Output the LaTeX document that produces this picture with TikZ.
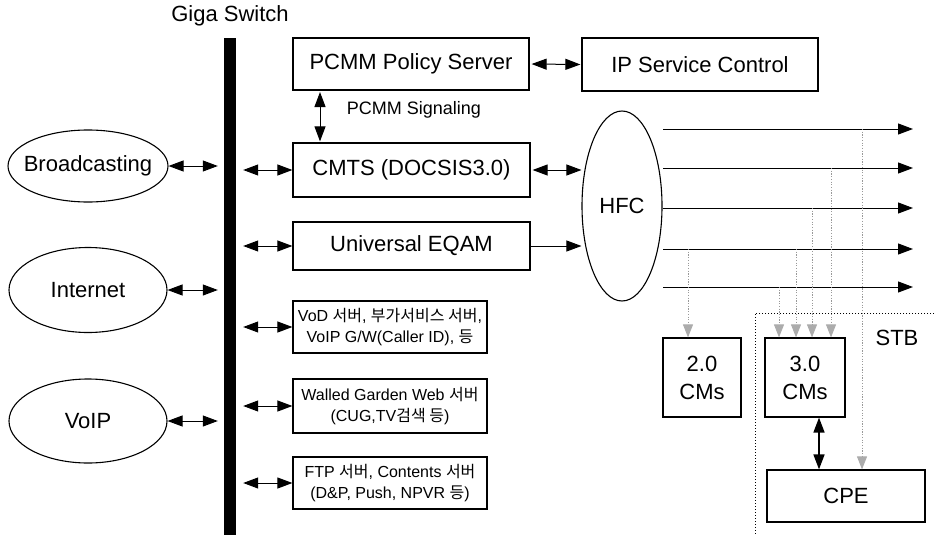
\documentclass[tikz,border=0pt]{standalone}
\usepackage{fontspec}
\setmainfont{Liberation Sans}
\newfontfamily\kr{Noto Sans CJK KR}
\usetikzlibrary{arrows.meta,shapes.geometric}
\tikzset{
  bigtxt/.style={font=\fontsize{22}{28}\selectfont},
  smalltxt/.style={font=\fontsize{16}{21}\selectfont},
  box/.style={draw, line width=1.2pt, rectangle, inner sep=0pt, align=center, bigtxt},
  sbox/.style={draw, line width=1.2pt, rectangle, inner sep=0pt, align=center, smalltxt},
  oval/.style={draw, line width=1.1pt, ellipse, inner sep=0pt},
  tipk/.tip={Triangle[length=15pt,width=11pt]},
  dbl/.style={line width=1pt, tipk-tipk},
  sgl/.style={line width=1pt, -tipk},
  drop/.style={draw=gray!80, line width=0.9pt, dash pattern=on 1.2pt off 1.5pt,
    -{Triangle[length=13pt,width=10pt,fill=gray!65,color=gray!65]}},
  stb/.style={line width=0.9pt, dash pattern=on 1.2pt off 1.8pt}
}
\begin{document}
\begin{tikzpicture}[x=1pt,y=-1pt]
\useasboundingbox (0,0) rectangle (936,535);
% giga switch
\node[fill=black, inner sep=0pt, minimum width=12pt, minimum height=497pt] (bar) at (230,286.5) {};
\node[bigtxt] (gs) at (230,16) {Giga Switch};
% boxes
\node[box, minimum width=236pt, minimum height=52pt] (pcmm) at (411,64) {PCMM Policy Server};
\node[box, minimum width=236pt, minimum height=53pt] (ipsc) at (700,64.5) {IP Service Control};
\node[box, minimum width=237pt, minimum height=54pt] (cmts) at (411.5,170) {CMTS (DOCSIS3.0)};
\node[box, minimum width=237pt, minimum height=48pt] (eqam) at (411.5,246) {Universal EQAM};
\node[sbox, minimum width=194pt, minimum height=52pt] (vod) at (390,327)
  {VoD {\kr 서버}, {\kr 부가서비스 서버},\\VoIP G/W(Caller ID), {\kr 등}};
\node[sbox, minimum width=194pt, minimum height=54pt] (wg) at (390,406)
  {Walled Garden Web {\kr 서버}\\(CUG,TV{\kr 검색 등})};
\node[sbox, minimum width=194pt, minimum height=52pt] (ftp) at (390,483)
  {FTP {\kr 서버}, Contents {\kr 서버}\\(D\&P, Push, NPVR {\kr 등})};
\node[font=\fontsize{18}{22}\selectfont] (sig) at (414,110) {PCMM Signaling};
% ellipses
\node[oval, minimum width=160pt, minimum height=72pt] (bc) at (88,166) {};
\node[bigtxt] (bct) at (bc) {Broadcasting};
\node[oval, minimum width=158pt, minimum height=85pt] (inet) at (88,290) {};
\node[bigtxt] (inett) at (inet) {Internet};
\node[oval, minimum width=158pt, minimum height=84pt] (voip) at (88,421) {};
\node[bigtxt] (voipt) at (voip) {VoIP};
\node[oval, minimum width=80pt, minimum height=190pt] (hfc) at (622,206) {};
\node[bigtxt] (hfct) at (hfc) {HFC};
% CMs and CPE
\node[box, minimum width=78pt, minimum height=79pt] (cm2) at (702,377.5) {2.0\\CMs};
\node[box, minimum width=80pt, minimum height=79pt] (cm3) at (805,377.5) {3.0\\CMs};
\node[box, minimum width=158pt, minimum height=52pt] (cpe) at (846,496) {CPE};
% STB
\draw[stb] (940,313) -- (755,313) -- (755,540);
\node[bigtxt] (stbl) at (897,338) {STB};
% left arrows
\draw[dbl, shorten >=6pt] (bc.east) -- (bc.east -| bar.west);
\draw[dbl, shorten >=6pt] (inet.east) -- (inet.east -| bar.west);
\draw[dbl, shorten >=6pt] (voip.east) -- (voip.east -| bar.west);
% right arrows from bar
\draw[dbl, shorten <=7pt] (bar.east |- cmts.west) -- (cmts.west);
\draw[dbl, shorten <=7pt] (bar.east |- eqam.west) -- (eqam.west);
\draw[dbl, shorten <=7pt] (bar.east |- vod.west) -- (vod.west);
\draw[dbl, shorten <=7pt] (bar.east |- wg.west) -- (wg.west);
\draw[dbl, shorten <=7pt] (bar.east |- ftp.west) -- (ftp.west);
% top links
\draw[dbl, shorten <=2pt, shorten >=1pt] (pcmm.east) -- (ipsc.west);
\coordinate (sg) at (320,90);
\draw[dbl, shorten <=2pt, shorten >=1pt] (sg) -- (sg |- cmts.north);
% to HFC
\draw[dbl, shorten <=2pt] (cmts.east) -- (cmts.east -| hfc.west);
\draw[sgl] (eqam.east) -- (eqam.east -| hfc.west);
% HFC outputs
\foreach \i/\y in {1/129,2/168,3/208,4/249,5/287}{
  \coordinate (s\i) at (663,\y);
  \coordinate (e\i) at (913,\y);
}
\draw[sgl] (s1) -- (e1);
\draw[sgl] (s2) -- (e2);
\draw[sgl] (s3) -- (e3);
\draw[sgl] (s4) -- (e4);
\draw[sgl] (s5) -- (e5);
% drops
\coordinate (d0) at (688,249);
\coordinate (d1) at (779,287);
\coordinate (d2) at (796,249);
\coordinate (d3) at (812,208);
\coordinate (d4) at (831,168);
\coordinate (d5) at (862,129);
\draw[drop] (d0) -- (d0 |- cm2.north);
\draw[drop] (d1) -- (d1 |- cm3.north);
\draw[drop] (d2) -- (d2 |- cm3.north);
\draw[drop] (d3) -- (d3 |- cm3.north);
\draw[drop] (d4) -- (d4 |- cm3.north);
\draw[drop] (d5) -- (d5 |- cpe.north);
% cm3 - cpe
\coordinate (cc) at (819,417);
\draw[line width=1.6pt, {Triangle[length=15pt,width=11pt]}-{Triangle[length=15pt,width=11pt]}] (cc |- cm3.south) -- (cc |- cpe.north);
\end{tikzpicture}
\end{document}
